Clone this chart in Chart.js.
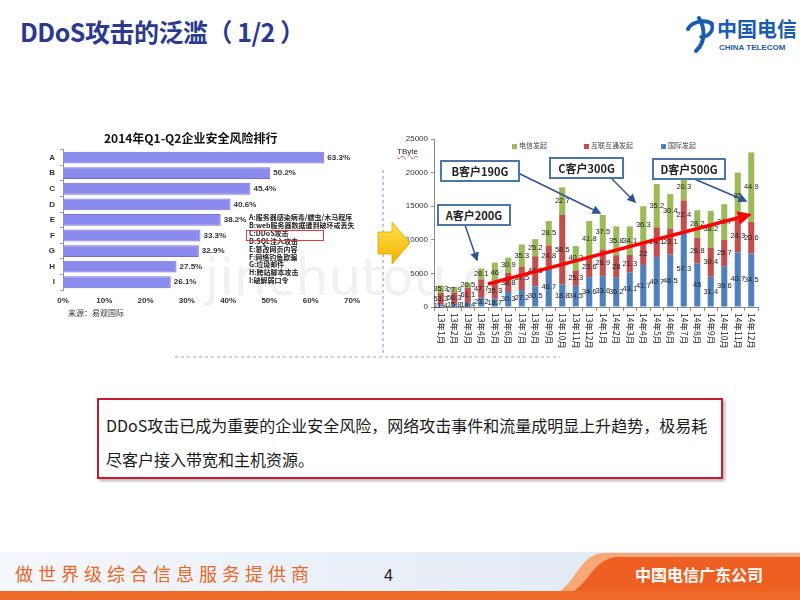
<!DOCTYPE html>
<html>
<head>
<meta charset="utf-8">
<script src="https://cdn.jsdelivr.net/npm/chart.js@4.4.1/dist/chart.umd.min.js"></script>
<style>
body{margin:0;width:800px;height:600px;position:relative;background:#fff;overflow:hidden;font-family:"Noto Sans CJK SC","Liberation Sans",sans-serif;}
.abs{position:absolute;}
#title{left:20px;top:13px;font-size:25px;font-weight:bold;color:#2B3A8F;letter-spacing:-0.5px;}
#mark{left:205px;top:247px;font-family:"DejaVu Sans";font-size:52px;color:#f1f1f1;z-index:0;}
canvas{position:absolute;z-index:1;}
#leftTitle{left:104px;top:129px;font-size:12px;font-weight:bold;color:#111;z-index:2;}
#riskList{left:249px;top:214px;font-size:7px;line-height:7.9px;color:#222;font-weight:bold;z-index:2;white-space:nowrap;}
#cBox{left:246px;top:230px;width:76px;height:9px;border:1px solid #E03A3A;z-index:2;}
#source{left:68px;top:307px;font-size:8px;color:#333;z-index:2;}
.leg{font-size:7px;color:#444;z-index:2;}
.sq{width:5px;height:5px;z-index:2;}
#tbyte{left:397px;top:147px;font-size:8px;color:#222;z-index:2;font-family:"Liberation Sans";text-decoration:underline wavy #e05050;}
.call{background:#fff;border:2px solid #4A76A8;font-size:11px;font-weight:bold;color:#222;text-align:center;line-height:18px;z-index:3;}
#overlay{left:0;top:0;z-index:2;}
#textBox{left:97px;top:398px;width:608px;height:61px;border:2px solid #C41E2E;box-shadow:2px 2px 3px rgba(0,0,0,0.3);padding:8px 7px;font-size:16px;line-height:34px;color:#1a1a1a;}
</style>
</head>
<body>

<div id="title" class="abs">DDoS攻击的泛滥（ 1/2 ）</div>

<!-- logo -->
<svg class="abs" style="left:684px;top:10px" width="112" height="46">
  <path d="M4,19 C8,11 22,9 28,14" stroke="#1A5CB0" stroke-width="4" fill="none" stroke-linecap="round"/>
  <path d="M27,13 C31,20 25,27 17,27" stroke="#1A5CB0" stroke-width="3.5" fill="none" stroke-linecap="round"/>
  <path d="M15,8 C21,18 22,32 12,41" stroke="#1A5CB0" stroke-width="4" fill="none" stroke-linecap="round"/>
  <text x="33" y="27" font-size="20" font-weight="bold" fill="#1A5CB0" font-family="Noto Sans CJK SC">中国电信</text>
  <text x="35" y="40" font-size="8" font-weight="bold" fill="#1A5CB0" font-family="Liberation Sans">CHINA TELECOM</text>
</svg>

<div id="mark" class="abs">jinchutou.com</div>

<!-- left chart -->
<div id="leftTitle" class="abs">2014年Q1-Q2企业安全风险排行</div>
<canvas id="riskChart" width="330" height="172" style="left:40px;top:140px"></canvas>
<div id="riskList" class="abs">A:服务器感染病毒/蠕虫/木马程序<br>B:web服务器数据遭到破坏或丢失<br>C:DDoS攻击<br>D:SQL注入攻击<br>E:篡改网页内容<br>F:网络钓鱼欺骗<br>G:垃圾邮件<br>H:跨站脚本攻击<br>I:破解弱口令</div>
<div id="cBox" class="abs"></div>
<div id="source" class="abs">来源：易观国际</div>

<!-- right chart -->
<canvas id="ddosChart" width="380" height="225" style="left:390px;top:130px"></canvas>
<div class="abs sq" style="left:512px;top:144px;background:#9BBB59"></div>
<div class="abs leg" style="left:519px;top:140px">电信发起</div>
<div class="abs sq" style="left:584px;top:144px;background:#C0504D"></div>
<div class="abs leg" style="left:591px;top:140px">互联互通发起</div>
<div class="abs sq" style="left:661px;top:144px;background:#4F81BD"></div>
<div class="abs leg" style="left:668px;top:140px">国际发起</div>
<div id="tbyte" class="abs">TByte</div>

<svg id="overlay" class="abs" width="800" height="600">
  <defs>
    <marker id="blueHead" markerWidth="6" markerHeight="6" refX="5" refY="3" orient="auto" markerUnits="strokeWidth">
      <path d="M0,0 L6,3 L0,6 Z" fill="#2F5597"/>
    </marker>
    <marker id="redHead" markerWidth="4" markerHeight="4" refX="2" refY="2" orient="auto" markerUnits="strokeWidth">
      <path d="M0,0 L4,2 L0,4 Z" fill="#FF0000"/>
    </marker>
    <linearGradient id="yel" x1="0" y1="0" x2="0" y2="1">
      <stop offset="0" stop-color="#FFE34D"/>
      <stop offset="1" stop-color="#F2B200"/>
    </linearGradient>
    <linearGradient id="band" x1="0" y1="0" x2="1" y2="0">
      <stop offset="0" stop-color="#F4F7FB"/>
      <stop offset="1" stop-color="#DCE7F2"/>
    </linearGradient>
  </defs>
  <line x1="383" y1="170" x2="383" y2="355" stroke="#A898C8" stroke-width="1.2" stroke-dasharray="3,3"/>
  <line x1="175" y1="357" x2="560" y2="357" stroke="#A898C8" stroke-width="1.2" stroke-dasharray="3,3"/>
  <polygon points="378,232 392,232 392,222 410,243 392,264 392,254 378,254" fill="url(#yel)" stroke="#E0A000" stroke-width="0.8"/>
  <line x1="488" y1="284" x2="745" y2="216" stroke="#FF0000" stroke-width="3.5" marker-end="url(#redHead)"/>
  <line x1="465" y1="225" x2="477" y2="260" stroke="#2F5597" stroke-width="1.5" marker-end="url(#blueHead)"/>
  <line x1="516" y1="172" x2="600" y2="213" stroke="#2F5597" stroke-width="1.5" marker-end="url(#blueHead)"/>
  <line x1="608" y1="175" x2="635" y2="202" stroke="#2F5597" stroke-width="1.5" marker-end="url(#blueHead)"/>
  <line x1="692" y1="178" x2="746" y2="201" stroke="#2F5597" stroke-width="1.5" marker-end="url(#blueHead)"/>

  <!-- footer -->
  <rect x="0" y="552" width="800" height="40" fill="url(#band)"/>
  <rect x="0" y="591" width="800" height="9" fill="#EE6A2A"/>
  <path d="M560,591 C578,578 580,556 602,553 L800,553 L800,591 Z" fill="#F7A876"/>
  <path d="M574,591 C592,578 594,560 616,557 L800,557 L800,591 Z" fill="#EE5F22"/>
  <text x="15" y="581" font-size="18" fill="#E8682A" letter-spacing="5" font-family="Noto Sans CJK SC">做世界级综合信息服务提供商</text>
  <text x="384" y="581" font-size="16" fill="#222" font-family="Liberation Sans">4</text>
  <text x="635" y="581" font-size="16" font-weight="bold" fill="#fff" font-family="Noto Sans CJK SC">中国电信广东公司</text>
</svg>

<div class="abs call" style="left:437px;top:204px;width:70px;height:18px">A客户200G</div>
<div class="abs call" style="left:440px;top:160px;width:76px;height:18px">B客户190G</div>
<div class="abs call" style="left:549px;top:157px;width:71px;height:18px">C客户300G</div>
<div class="abs call" style="left:652px;top:158px;width:70px;height:18px">D客户500G</div>

<div id="textBox" class="abs">DDoS攻击已成为重要的企业安全风险，网络攻击事件和流量成明显上升趋势，极易耗<br>尽客户接入带宽和主机资源。</div>

<script>
// left chart: 2014 Q1-Q2 risk ranking (%)
var riskLabels = ['A','B','C','D','E','F','G','H','I'];
var riskValues = [63.3,50.2,45.4,40.6,38.2,33.3,32.9,27.5,26.1];
var riskMax = 70;
var riskStep = 10;

// right chart: monthly DDoS traffic (TByte)
var months = ['13年1月','13年2月','13年3月','13年4月','13年5月','13年6月','13年7月','13年8月','13年9月','13年10月','13年11月','13年12月',
              '14年1月','14年2月','14年3月','14年4月','14年5月','14年6月','14年7月','14年8月','14年9月','14年10月','14年11月','14年12月'];
var intlData = [360,470,660,1380,1230,2230,2530,3080,5980,3350,3140,4430,4600,4340,5170,6260,7450,7810,11400,6480,4490,6060,8140,7940];
var interData = [1710,1690,2200,2720,2330,2850,3490,4470,3170,10410,2300,3020,3960,3360,2560,3300,4410,3880,4460,3860,4350,3930,4860,4740];
var telecomData = [1130,840,740,1600,3040,2270,3280,2550,3650,4040,3660,5350,5140,4300,4270,5440,6440,5110,4040,4060,5460,5310,7000,10320];
// share labels printed on each segment
var intlPct = ['11.4','15.8','18.4','23.2','18.7','30.3','27.2','30.5','46.7','18.8','34.5','34.6','33.6','36.2','43.1','41.7','40.7','46.5','57.3','45','31.4','39.6','40.7','34.5'];
var interPct = ['53.3','56.3','61.1','47.7','35.3','38.8','37.5','44.3','24.8','58.5','25.3','23.6','28.9','28','21.3','22','24.1','23.1','22.4','26.8','30.4','25.7','24.3','20.6'];
var telecomPct = ['35.3','27.9','20.5','28.1','46','30.9','35.3','25.2','28.5','22.7','40.2','41.8','37.5','35.8','34.1','36.3','35.2','30.4','20.3','28.2','38.2','34.7','35','44.9'];
var yMax = 25000;
var yStep = 5000;

var barEndLabels = {
    id:'barEndLabels',
    afterDatasetsDraw:function(chart){
        var ctx = chart.ctx;
        var meta = chart.getDatasetMeta(0);
        ctx.save();
        ctx.font = 'bold 8px "Liberation Sans"';
        ctx.fillStyle = '#333';
        ctx.textAlign = 'left';
        ctx.textBaseline = 'middle';
        meta.data.forEach(function(bar,i){
            ctx.fillText(riskValues[i].toFixed(1) + '%', bar.x + 3, bar.y);
        });
        ctx.restore();
    }
};

new Chart(document.getElementById('riskChart'),{
    type:'bar',
    data:{
        labels:riskLabels,
        datasets:[{
            data:riskValues,
            backgroundColor:'#8B8BEE',
            borderColor:'#7373D6',
            borderWidth:1,
            barPercentage:0.76,
            categoryPercentage:1
        }]
    },
    options:{
        indexAxis:'y',
        responsive:false,
        animation:false,
        layout:{padding:{top:5,right:18,left:0,bottom:0}},
        plugins:{legend:{display:false},tooltip:{enabled:false}},
        scales:{
            x:{
                min:0,max:riskMax,
                afterFit:function(s){ s.height = 22; },
                ticks:{stepSize:riskStep,padding:6,color:'#333',font:{size:8,weight:'bold',family:'Liberation Sans'},
                    callback:function(v){ return v + '%'; }},
                grid:{display:false,drawTicks:false},
                border:{display:false}
            },
            y:{
                afterFit:function(s){ s.width = 23; },
                ticks:{color:'#333',padding:5,font:{size:8,weight:'bold',family:'Liberation Sans'}},
                grid:{drawOnChartArea:false,tickLength:3,color:'#999'},
                border:{color:'#999'}
            }
        }
    },
    plugins:[barEndLabels]
});

var segLabels = {
    id:'segLabels',
    afterDatasetsDraw:function(chart){
        var ctx = chart.ctx;
        ctx.save();
        ctx.font = '7.5px "Liberation Sans"';
        ctx.fillStyle = '#222';
        ctx.textAlign = 'center';
        ctx.textBaseline = 'middle';
        chart.data.datasets.forEach(function(ds,i){
            var meta = chart.getDatasetMeta(i);
            meta.data.forEach(function(bar,j){
                ctx.fillText(ds.pct[j], bar.x, (bar.y + bar.base) / 2);
            });
        });
        ctx.restore();
    }
};

// month labels read top to bottom
var vertLabels = {
    id:'vertLabels',
    afterDraw:function(chart){
        var ctx = chart.ctx;
        var sc = chart.scales.x;
        ctx.save();
        ctx.font = '8.5px "Noto Sans CJK SC"';
        ctx.fillStyle = '#222';
        ctx.textAlign = 'left';
        ctx.textBaseline = 'middle';
        months.forEach(function(m,i){
            ctx.save();
            ctx.translate(sc.getPixelForValue(i), sc.top + 6);
            ctx.rotate(Math.PI / 2);
            ctx.fillText(m,0,0);
            ctx.restore();
        });
        ctx.restore();
    }
};

new Chart(document.getElementById('ddosChart'),{
    type:'bar',
    data:{
        labels:months,
        datasets:[
            {label:'国际发起',data:intlData,pct:intlPct,backgroundColor:'#4F81BD'},
            {label:'互联互通发起',data:interData,pct:interPct,backgroundColor:'#C0504D'},
            {label:'电信发起',data:telecomData,pct:telecomPct,backgroundColor:'#9BBB59'}
        ]
    },
    options:{
        responsive:false,
        animation:false,
        layout:{padding:{top:9,right:12,left:0,bottom:0}},
        datasets:{bar:{barPercentage:0.5,categoryPercentage:0.9}},
        plugins:{legend:{display:false},tooltip:{enabled:false}},
        scales:{
            x:{
                stacked:true,
                afterFit:function(s){ s.height = 48; },
                ticks:{display:false},
                grid:{drawOnChartArea:false,tickLength:4,color:'#888',offset:true},
                border:{color:'#888'}
            },
            y:{
                stacked:true,
                min:0,max:yMax,
                afterFit:function(s){ s.width = 44; },
                ticks:{stepSize:yStep,padding:3,color:'#333',font:{size:8,family:'Liberation Sans'},
                    callback:function(v){ return String(v); }},
                grid:{drawOnChartArea:false,tickLength:3,color:'#888'},
                border:{color:'#888'}
            }
        }
    },
    plugins:[segLabels,vertLabels]
});
</script>
</body>
</html>
